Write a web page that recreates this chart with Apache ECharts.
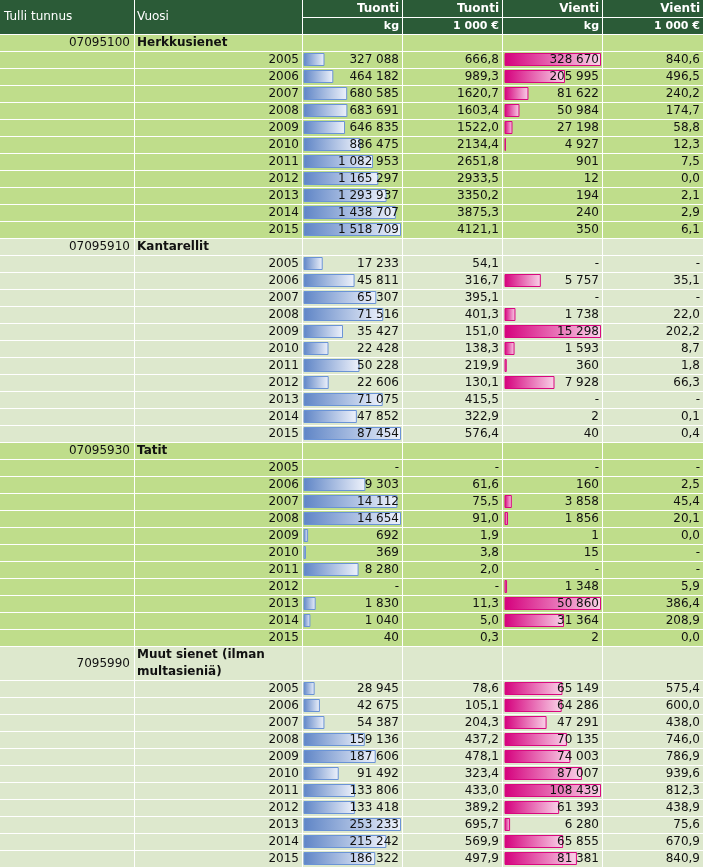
<!DOCTYPE html>
<html><head><meta charset="utf-8">
<script src="https://cdn.jsdelivr.net/npm/echarts@6/dist/echarts.min.js"></script>
<style>html,body{margin:0;padding:0;background:#fff}#c{width:703px;height:868px}</style>
</head><body><div id="c"></div>
<script>
// ---------- data ----------
const years = [2005, 2006, 2007, 2008, 2009, 2010, 2011, 2012, 2013, 2014, 2015];
const groupCodes = ['07095100', '07095910', '07095930', '7095990'];
const groupNames = ['Herkkusienet', 'Kantarellit', 'Tatit', 'Muut sienet (ilman\nmultasieniä)'];
const headerTop = ['Tuonti', 'Tuonti', 'Vienti', 'Vienti'];
const headerUnit = ['kg', '1 000 €', 'kg', '1 000 €'];
const headerLeft = ['Tulli tunnus', 'Vuosi'];

const herkkuTuontiKg = [327088, 464182, 680585, 683691, 646835, 886475, 1082953, 1165297, 1293937, 1438707, 1518709];
const herkkuTuontiEur = [666.8, 989.3, 1620.7, 1603.4, 1522.0, 2134.4, 2651.8, 2933.5, 3350.2, 3875.3, 4121.1];
const herkkuVientiKg = [328670, 205995, 81622, 50984, 27198, 4927, 901, 12, 194, 240, 350];
const herkkuVientiEur = [840.6, 496.5, 240.2, 174.7, 58.8, 12.3, 7.5, 0.0, 2.1, 2.9, 6.1];

const kantaTuontiKg = [17233, 45811, 65307, 71516, 35427, 22428, 50228, 22606, 71075, 47852, 87454];
const kantaTuontiEur = [54.1, 316.7, 395.1, 401.3, 151.0, 138.3, 219.9, 130.1, 415.5, 322.9, 576.4];
const kantaVientiKg = [null, 5757, null, 1738, 15298, 1593, 360, 7928, null, 2, 40];
const kantaVientiEur = [null, 35.1, null, 22.0, 202.2, 8.7, 1.8, 66.3, null, 0.1, 0.4];

const tatitTuontiKg = [null, 9303, 14112, 14654, 692, 369, 8280, null, 1830, 1040, 40];
const tatitTuontiEur = [null, 61.6, 75.5, 91.0, 1.9, 3.8, 2.0, null, 11.3, 5.0, 0.3];
const tatitVientiKg = [null, 160, 3858, 1856, 1, 15, null, 1348, 50860, 31364, 2];
const tatitVientiEur = [null, 2.5, 45.4, 20.1, 0.0, null, null, 5.9, 386.4, 208.9, 0.0];

const muutTuontiKg = [28945, 42675, 54387, 159136, 187606, 91492, 133806, 133418, 253233, 215242, 186322];
const muutTuontiEur = [78.6, 105.1, 204.3, 437.2, 478.1, 323.4, 433.0, 389.2, 695.7, 569.9, 497.9];
const muutVientiKg = [65149, 64286, 47291, 70135, 74003, 87007, 108439, 61393, 6280, 65855, 81381];
const muutVientiEur = [575.4, 600.0, 438.0, 746.0, 786.9, 939.6, 812.3, 438.9, 75.6, 670.9, 840.9];

const groups = [
  [herkkuTuontiKg, herkkuTuontiEur, herkkuVientiKg, herkkuVientiEur],
  [kantaTuontiKg, kantaTuontiEur, kantaVientiKg, kantaVientiEur],
  [tatitTuontiKg, tatitTuontiEur, tatitVientiKg, tatitVientiEur],
  [muutTuontiKg, muutTuontiEur, muutVientiKg, muutVientiEur]
];

// ---------- style / layout ----------
const FONT = 'DejaVu Sans, Verdana, sans-serif';
const TXT = '#111';
const HEAD_BG = '#2b5b37';
const BG = ['#bfdd8b', '#dde8cd', '#bfdd8b', '#dde8cd'];
const ROW = 17;
const headerRowH = [17, 17, 17, 34];
const W = 703;
const vLines = [134, 302, 402, 502, 602];

const fmtKg = v => v == null ? '-' : String(v).replace(/\B(?=(\d{3})+(?!\d))/g, ' ');
const fmtEur = v => v == null ? '-' : v.toFixed(1).replace('.', ',');

const cols = [
  {left: 135, right: 302, kind: 'year'},
  {left: 303, right: 402, kind: 'bar', idx: 0, gl: 303.5, gr: 401, c0: '#5f85c6', c1: '#eef2fb', bc: '#6a93d6'},
  {left: 403, right: 502, kind: 'eur', idx: 1},
  {left: 503, right: 602, kind: 'bar', idx: 2, gl: 504.5, gr: 601, c0: '#d5007d', c1: '#f9d3e8', bc: '#d8087f'},
  {left: 603, right: 703, kind: 'eur', idx: 3}
];

const grids = [], xAxes = [], yAxes = [], series = [], graphics = [];

// backgrounds
graphics.push({type: 'rect', shape: {x: 0, y: 0, width: W, height: 34}, style: {fill: HEAD_BG}, z: 0});
let y = 34;
const hLines = [34];
const groupTops = [];
groups.forEach((g, gi) => {
  const start = y;
  const hh = headerRowH[gi];
  groupTops.push({start: start, hdrEnd: start + hh});
  y = start + hh;
  hLines.push(y);
  for (let i = 0; i < years.length; i++) { y += ROW; hLines.push(y); }
  graphics.push({type: 'rect', shape: {x: 0, y: start + 1, width: W, height: y - start}, style: {fill: BG[gi]}, z: 0});
});

// lines
hLines.forEach(ly => graphics.push({type: 'rect', shape: {x: 0, y: ly, width: W, height: 1}, style: {fill: '#fff'}, z: 1}));
graphics.push({type: 'rect', shape: {x: 303, y: 17, width: W - 303, height: 1}, style: {fill: '#fff'}, z: 1});
vLines.forEach(lx => graphics.push({type: 'rect', shape: {x: lx, y: 0, width: 1, height: 868}, style: {fill: '#fff'}, z: 1}));

// header texts
const tstyle = (txt, x, yy, align, size, weight, color) => ({
  type: 'text', z: 5, x: x, y: yy,
  style: {text: txt, fill: color || TXT, font: (weight || 'normal') + ' ' + size + 'px ' + FONT, textAlign: align, textVerticalAlign: 'middle'}
});
graphics.push(tstyle(headerLeft[0], 4, 17, 'left', 12, 'normal', '#fff'));
graphics.push(tstyle(headerLeft[1], 137, 17, 'left', 12, 'normal', '#fff'));
const headRights = [399, 499, 599, 700];
headRights.forEach((rx, i) => {
  graphics.push(tstyle(headerTop[i], rx, 9, 'right', 12, 'bold', '#fff'));
  graphics.push(tstyle(headerUnit[i], rx, 26, 'right', 11, 'bold', '#fff'));
});

// group header texts
groupTops.forEach((gt, gi) => {
  const cy = (gt.start + 1 + gt.hdrEnd) / 2;
  graphics.push(tstyle(groupCodes[gi], 130, cy, 'right', 12, 'normal'));
  graphics.push({
    type: 'text', z: 5, x: 137, y: cy,
    style: {text: groupNames[gi], fill: TXT, font: 'bold 12px ' + FONT, textAlign: 'left', textVerticalAlign: 'middle', lineHeight: 17}
  });
});

// data grids
groups.forEach((g, gi) => {
  const top = groupTops[gi].hdrEnd;
  cols.forEach(col => {
    const gIndex = grids.length;
    let left, width, max, vals, fmt, dist;
    if (col.kind === 'bar') {
      left = col.gl; width = col.gr - col.gl; vals = g[col.idx];
      max = Math.max.apply(null, vals.filter(v => v != null));
      fmt = fmtKg; dist = col.gr - (col.right - 3);
    } else {
      left = col.left; width = col.right - col.left; max = 1; dist = 3;
      if (col.kind === 'year') { vals = years; fmt = v => String(v); }
      else { vals = g[col.idx]; fmt = fmtEur; }
    }
    grids.push({left: left, top: top, width: width, height: ROW * years.length, containLabel: false});
    xAxes.push({type: 'value', gridIndex: gIndex, min: 0, max: max, show: false});
    yAxes.push({type: 'category', gridIndex: gIndex, data: years.map(String), inverse: true, show: false});
    if (col.kind === 'bar') {
      series.push({
        type: 'bar', xAxisIndex: gIndex, yAxisIndex: gIndex, barWidth: 13, z: 3, silent: true,
        data: vals.map(v => {
          const px = v == null ? 0 : v / max * width;
          return {
            value: v,
            itemStyle: {
              color: {type: 'linear', x: 0, y: 0, x2: 1, y2: 0, colorStops: [{offset: 0, color: col.c0}, {offset: 1, color: col.c1}]},
              borderColor: col.bc, borderWidth: px < 1 ? 0 : 1, opacity: px < 1 ? 0 : 1
            }
          };
        })
      });
    }
    series.push({
      type: 'bar', xAxisIndex: gIndex, yAxisIndex: gIndex, barWidth: 13, barGap: '-100%', z: 4, silent: true,
      itemStyle: {color: 'rgba(0,0,0,0)'},
      data: vals.map(() => max),
      label: {
        show: true, position: 'insideRight', distance: dist,
        color: TXT, fontFamily: FONT, fontSize: 12,
        formatter: p => fmt(vals[p.dataIndex])
      }
    });
  });
});

const chart = echarts.init(document.getElementById('c'), null, {renderer: 'canvas'});
chart.setOption({
  animation: false,
  backgroundColor: '#fff',
  grid: grids, xAxis: xAxes, yAxis: yAxes, series: series,
  graphic: {elements: graphics}
});
</script></body></html>
